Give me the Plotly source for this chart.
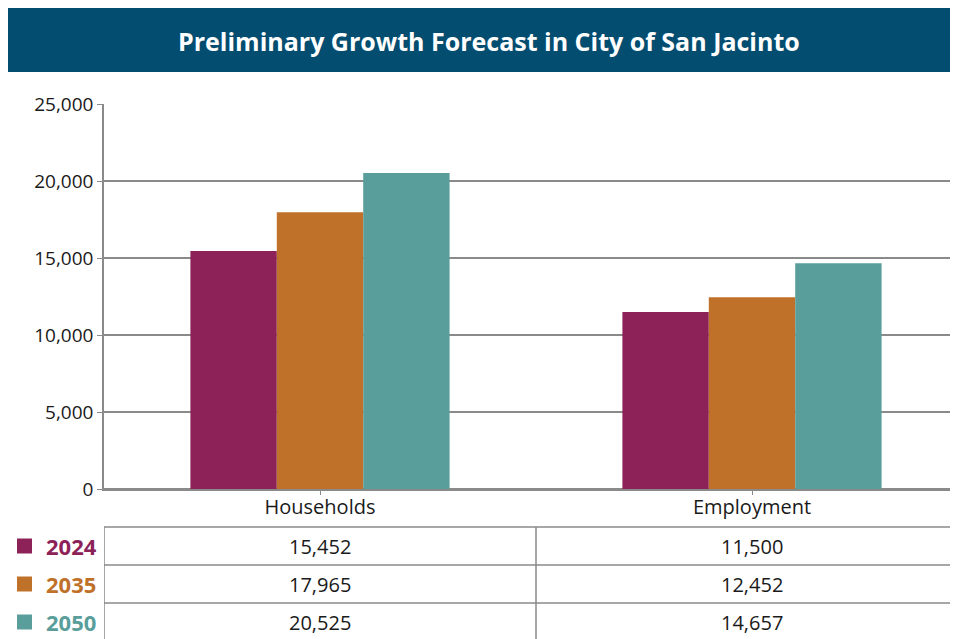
import plotly.graph_objects as go

categories = ["Households", "Employment"]
years = ["2024", "2035", "2050"]
values_2024 = [15452, 11500]
values_2035 = [17965, 12452]
values_2050 = [20525, 14657]
colors = ["#8C2258", "#C07129", "#5A9E9B"]
title_text = "Preliminary Growth Forecast in City of San Jacinto"

# page has an 8px body margin; layout numbers below are in figure pixels
OFF = 8
W, H = 958 - OFF, 639 - OFF
L, R, T = 104 - OFF, 0, 104 - OFF
B = H - (489 - OFF)
plot_w = W - L - R
plot_h = H - T - B

def px2x(px):
    return (px - OFF - L) / plot_w

def py2y(py):
    return (H - B - (py - OFF)) / plot_h

FONT = "Open Sans"
series = [values_2024, values_2035, values_2050]

fig = go.Figure()
for yr, vals, col in zip(years, series, colors):
    fig.add_trace(go.Bar(x=categories, y=vals, name=yr, marker=dict(color=col, line=dict(width=0)),
                         hoverinfo="x+y+name"))

shapes = []
annotations = []

# Title banner
shapes.append(dict(type="rect", xref="paper", yref="paper",
                   x0=px2x(8), x1=px2x(960), y0=py2y(72), y1=py2y(8),
                   fillcolor="#034D70", line=dict(width=0), layer="below"))
annotations.append(dict(text="<b>" + title_text + "</b>", xref="paper", yref="paper",
                        x=px2x(489), y=py2y(41), showarrow=False,
                        font=dict(family=FONT, size=25, color="white"),
                        xanchor="center", yanchor="middle"))

# Data table
line_col = "#8A8A8A"
row_tops = [527, 565, 603]
row_h = 38
for rt in row_tops:
    shapes.append(dict(type="line", xref="paper", yref="paper",
                       x0=0, x1=px2x(960), y0=py2y(rt), y1=py2y(rt),
                       line=dict(color=line_col, width=1.5)))
for xv in [-0.5, 0.5]:
    shapes.append(dict(type="line", xref="x", yref="paper",
                       x0=xv, x1=xv, y0=py2y(row_tops[0]), y1=py2y(650),
                       line=dict(color=line_col, width=1.5)))

for i, (yr, vals, col) in enumerate(zip(years, series, colors)):
    cy = row_tops[i] + row_h / 2
    shapes.append(dict(type="rect", xref="paper", yref="paper",
                       x0=px2x(17), x1=px2x(32), y0=py2y(cy + 7.5), y1=py2y(cy - 7.5),
                       fillcolor=col, line=dict(width=0)))
    annotations.append(dict(text="<b>" + yr + "</b>", xref="paper", yref="paper",
                            x=px2x(44), y=py2y(cy), showarrow=False,
                            xanchor="left", yanchor="middle",
                            font=dict(family=FONT, size=22, color=col)))
    for cat, v in zip(categories, vals):
        annotations.append(dict(text=f"{v:,}", xref="x", yref="paper",
                                x=cat, y=py2y(cy), showarrow=False,
                                xanchor="center", yanchor="middle",
                                font=dict(family=FONT, size=20, color="#1a1a1a")))

fig.update_layout(
    width=W, height=H,
    margin=dict(l=L, r=R, t=T, b=B),
    paper_bgcolor="white", plot_bgcolor="white",
    barmode="group", bargap=0.4, bargroupgap=0,
    showlegend=False,
    shapes=shapes, annotations=annotations,
    xaxis=dict(type="category", range=[-0.5, -0.5 + plot_w / 432.0],
               showline=True, linecolor=line_col, linewidth=1.5,
               ticks="outside", ticklen=4, tickcolor=line_col,
               ticklabelstandoff=-5,
               tickfont=dict(family=FONT, size=20, color="#1a1a1a"),
               showgrid=False),
    yaxis=dict(range=[0, 25000], tickvals=[0, 5000, 10000, 15000, 20000, 25000],
               tickformat=",", showline=True, linecolor=line_col, linewidth=1.5,
               ticks="outside", ticklen=5, tickcolor=line_col,
               gridcolor=line_col, gridwidth=1.5,
               zeroline=True, zerolinecolor=line_col, zerolinewidth=1.5,
               tickfont=dict(family=FONT, size=19, color="#1a1a1a")),
)

fig.write_html("out.html")
